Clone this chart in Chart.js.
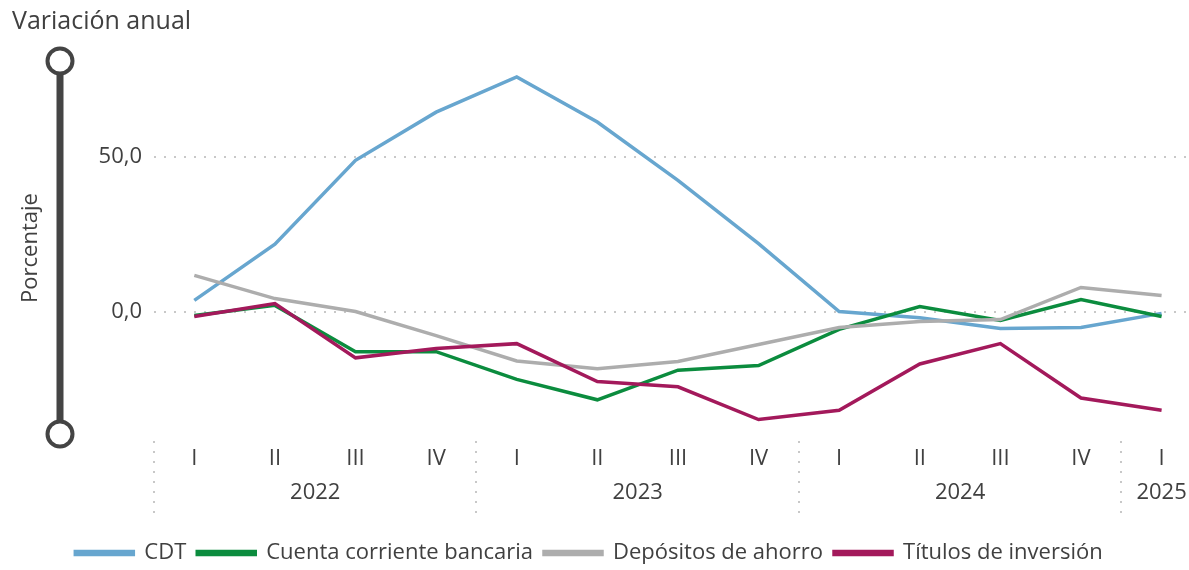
<!DOCTYPE html>
<html>
<head>
<meta charset="utf-8">
<script src="https://cdn.jsdelivr.net/npm/chart.js@4"></script>
<style>
  html, body { margin: 0; padding: 0; background: #fff; }
  #wrap { width: 1189px; height: 570px; position: relative; }
</style>
</head>
<body>
<div id="wrap"><canvas id="grafico"></canvas></div>
<script>
// datos (variacion anual, %)
const trimestres = ["I", "II", "III", "IV", "I", "II", "III", "IV", "I", "II", "III", "IV", "I"];
const anios = ["2022", "2023", "2024", "2025"];
const inicioAnio = [0, 4, 8, 12];
const finAnio = [3, 7, 11, 12];
const ticksY = [0, 50];

const cdt = [3.6, 21.8, 49.0, 64.6, 76.0, 61.4, 42.5, 22.0, 0.0, -2.0, -5.5, -5.2, -0.6];
const cuentaCorriente = [-1.3, 2.0, -13.0, -13.0, -22.0, -28.6, -19.0, -17.5, -5.8, 1.6, -2.9, 3.9, -1.6];
const depositos = [11.7, 4.2, 0.0, -7.8, -16.0, -18.5, -16.2, -10.7, -5.2, -3.2, -2.6, 7.8, 5.2];
const titulos = [-1.6, 2.6, -15.0, -12.0, -10.4, -22.7, -24.4, -35.0, -32.0, -17.0, -10.4, -28.0, -32.0];

const fuente = "'Open Sans', 'Noto Sans', sans-serif";
const gris = "#404040";
const punteado = "#c8c8c8";

const puntos = (arr) => arr.map((v, i) => ({ x: i, y: v }));

const serie = (label, data, color, orden) => ({
    label: label,
    data: puntos(data),
    borderColor: color,
    backgroundColor: color,
    borderWidth: 3.5,
    pointRadius: 0,
    tension: 0,
    fill: false,
    order: orden
});

// decoracion: titulo, barra del eje y, etiquetas de año y separadores
const decoracion = {
    id: "decoracion",
    afterDraw(chart) {
        const ctx = chart.ctx;
        const x = chart.scales.x;
        ctx.save();

        ctx.fillStyle = gris;
        ctx.font = "25px " + fuente;
        ctx.textAlign = "left";
        ctx.textBaseline = "middle";
        ctx.fillText("Variación anual", 12, 22);

        // barra vertical con circulos
        const bx = 60, y1 = 61, y2 = 434;
        ctx.strokeStyle = "#444";
        ctx.lineWidth = 7;
        ctx.beginPath();
        ctx.moveTo(bx, y1);
        ctx.lineTo(bx, y2);
        ctx.stroke();
        ctx.lineWidth = 4;
        [y1, y2].forEach((cy) => {
            ctx.beginPath();
            ctx.arc(bx, cy, 12.5, 0, Math.PI * 2);
            ctx.fillStyle = "#fff";
            ctx.fill();
            ctx.stroke();
        });

        ctx.translate(31, 248);
        ctx.rotate(-Math.PI / 2);
        ctx.fillStyle = gris;
        ctx.font = "22px " + fuente;
        ctx.textAlign = "center";
        ctx.fillText("Porcentaje", 0, 0);
        ctx.setTransform(1, 0, 0, 1, 0, 0);

        // años
        ctx.font = "22px " + fuente;
        ctx.textAlign = "center";
        anios.forEach((a, i) => {
            const cx = (x.getPixelForValue(inicioAnio[i]) + x.getPixelForValue(finAnio[i])) / 2;
            ctx.fillText(a, cx, 493);
        });

        // separadores punteados
        ctx.strokeStyle = punteado;
        ctx.lineWidth = 2;
        ctx.setLineDash([2, 8]);
        inicioAnio.forEach((ini) => {
            const sx = Math.round(x.getPixelForValue(ini - 0.5));
            ctx.beginPath();
            ctx.moveTo(sx, 441);
            ctx.lineTo(sx, 513);
            ctx.stroke();
        });
        ctx.restore();
    }
};

new Chart(document.getElementById("grafico"), {
    type: "line",
    data: {
        datasets: [
            serie("CDT", cdt, "#67a6cf", 4),
            serie("Cuenta corriente bancaria", cuentaCorriente, "#0b8c3e", 3),
            serie("Depósitos de ahorro", depositos, "#adadad", 2),
            serie("Títulos de inversión", titulos, "#a3195b", 1)
        ]
    },
    options: {
        responsive: true,
        maintainAspectRatio: false,
        animation: false,
        layout: { padding: { top: 64, left: 0, right: 0, bottom: -4 } },
        plugins: {
            tooltip: { enabled: false },
            legend: {
                position: "bottom",
                labels: {
                    boxWidth: 58,
                    boxHeight: 3,
                    padding: 0,
                    color: gris,
                    font: { family: fuente, size: 22 },
                    sort: (a, b) => a.datasetIndex - b.datasetIndex,
                    generateLabels: (chart) => {
                        const items = Chart.defaults.plugins.legend.labels.generateLabels(chart);
                        items.forEach((it) => { it.text = it.text + "\u2002"; });
                        return items;
                    }
                }
            }
        },
        scales: {
            x: {
                type: "linear",
                min: -0.5,
                max: 12.34,
                border: { display: false },
                grid: { display: false },
                afterBuildTicks: (s) => { s.ticks = trimestres.map((t, i) => ({ value: i })); },
                afterFit: (s) => { s.height = 107; },
                ticks: {
                    autoSkip: false,
                    maxRotation: 0,
                    padding: 3,
                    color: gris,
                    font: { family: fuente, size: 22 },
                    callback: (v) => trimestres[v]
                }
            },
            y: {
                min: -40,
                max: 80.2,
                border: { display: false, dash: [2, 8] },
                afterBuildTicks: (s) => { s.ticks = ticksY.map((v) => ({ value: v })); },
                afterFit: (s) => { s.width = 154; },
                grid: {
                    drawTicks: false,
                    color: punteado,
                    lineWidth: 2
                },
                ticks: {
                    padding: 12,
                    color: gris,
                    font: { family: fuente, size: 22 },
                    callback: (v) => v.toFixed(1).replace(".", ",")
                }
            }
        }
    },
    plugins: [decoracion]
});
</script>
</body>
</html>
